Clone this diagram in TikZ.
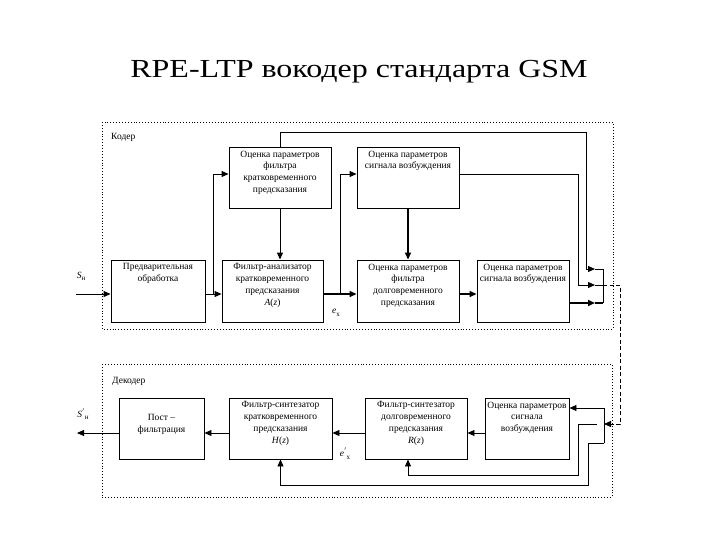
\documentclass[tikz,border=0pt]{standalone}
\usepackage{fontspec}
\setmainfont{Liberation Serif}
\usetikzlibrary{arrows.meta,calc}
\tikzset{
  blk/.style={draw, line width=0.9pt, inner sep=0pt},
  txt/.style={align=center, inner sep=0.5pt, anchor=north, font=\fontsize{9.5}{11.8}\selectfont},
  ln/.style={line width=0.9pt},
  arr/.style={line width=0.9pt, -{Triangle[length=7pt,width=6pt]}},
  thk/.style={line width=2pt},
  frame/.style={dotted, line width=0.9pt},
  lab/.style={font=\fontsize{9.5}{11}\selectfont, inner sep=0pt}
}
\begin{document}
\begin{tikzpicture}[x=1pt,y=-1pt]
\useasboundingbox (0,0) rectangle (720,540);
% title
\node[anchor=base, inner sep=0pt, xscale=1.23, font=\fontsize{26}{30}\selectfont] (title) at (359,78) {RPE-LTP вокодер стандарта GSM};
% frames
\draw[frame] (102,122) rectangle (613,329);
\draw[frame] (102,364) rectangle (612,497);
\node[lab, anchor=west] (coderl) at (111,137) {Кодер};
\node[lab, anchor=west] (decl) at (112,381) {Декодер};
% coder blocks
\node[blk, minimum width=102pt, minimum height=61pt] (b1) at (280,177.5) {};
\node[txt] (b1t) at ([yshift=-3.5pt]b1.north) {Оценка параметров\\фильтра\\кратковременного\\предсказания};
\node[blk, minimum width=102pt, minimum height=61pt] (b2) at (408,177.5) {};
\node[txt] (b2t) at ([yshift=-3.5pt]b2.north) {Оценка параметров\\сигнала возбуждения};
\node[blk, minimum width=94pt, minimum height=62pt] (b3) at (158,291) {};
\node[txt] (b3t) at ([yshift=-3.5pt]b3.north) {Предварительная\\обработка};
\node[blk, minimum width=101pt, minimum height=62pt] (b4) at (272.5,291) {};
\node[txt] (b4t) at ([yshift=-3.5pt]b4.north) {Фильтр-анализатор\\кратковременного\\предсказания\\\textit{A}(\textit{z})};
\node[blk, minimum width=102pt, minimum height=62pt] (b5) at (408,291) {};
\node[txt] (b5t) at ([yshift=-3.5pt]b5.north) {Оценка параметров\\фильтра\\долговременного\\предсказания};
\node[blk, minimum width=92pt, minimum height=62pt] (b6) at (523,291) {};
\node[txt] (b6t) at ([yshift=-3.5pt]b6.north) {Оценка параметров\\сигнала возбуждения};
% decoder blocks
\node[blk, minimum width=85pt, minimum height=61pt] (b7) at (161.5,428.5) {};
\node[txt] (b7t) at ([yshift=-16.5pt]b7.north) {Пост –\\фильтрация};
\node[blk, minimum width=103pt, minimum height=61pt] (b8) at (280.5,428.5) {};
\node[txt] (b8t) at ([yshift=-3.5pt]b8.north) {Фильтр-синтезатор\\кратковременного\\предсказания\\\textit{H}(\textit{z})};
\node[blk, minimum width=102pt, minimum height=61pt] (b9) at (416,428.5) {};
\node[txt] (b9t) at ([yshift=-3.5pt]b9.north) {Фильтр-синтезатор\\долговременного\\предсказания\\\textit{R}(\textit{z})};
\node[blk, minimum width=84pt, minimum height=61pt] (b10) at (527,428.5) {};
\node[txt] (b10t) at ([yshift=-3.5pt]b10.north) {Оценка параметров\\сигнала\\возбуждения};
% coder connectors
\coordinate (sin) at (76,294);
\coordinate (j1) at (213,294);
\coordinate (j2) at (340,294);
\coordinate (cbt) at (603,269);
\coordinate (cbm) at (603,285);
\coordinate (cbb) at (603,303);
\draw[arr] (sin) -- (sin -| b3.west);
\draw[arr] (b3.east |- j1) -- (b4.west |- j1);
\draw[arr] (j1) |- ([yshift=3.5pt]b1.west);
\draw[arr] (b1.south) -- (b1.south |- b4.north);
\draw[arr,thk] (b4.east |- j2) -- (b5.west |- j2);
\draw[arr] (j2) |- ([yshift=3.5pt]b2.west);
\draw[arr,thk] (b2.south) -- (b5.north);
\draw[arr,thk] (b5.east |- j2) -- (b6.west |- j2);
\draw[arr] (b1.north) |- (586,132) |- ([xshift=-8pt]cbt);
\draw[ln] ([xshift=-8pt]cbt) -- (cbt);
\draw[arr] ([yshift=3.5pt]b2.east) -| (578,285) -- ([xshift=-8pt]cbm);
\draw[ln] ([xshift=-8pt]cbm) -- (cbm);
\draw[arr,thk] (b6.east |- cbb) -- ([xshift=-8pt]cbb);
\draw[thk] ([xshift=-8pt]cbb) -- (cbb);
\draw[ln] (cbt) -- (cbb);
% link
\coordinate (dbt) at (604,408);
\coordinate (dbm) at (604,424);
\coordinate (dbb) at (604,443);
\draw[ln, dash pattern=on 4pt off 2.5pt] (cbm) -| (620,424) -- (612,424);
\draw[arr] (612,424) -- (dbm);
% decoder connectors
\coordinate (sout) at (77,433);
\draw[ln] (dbt) -- (dbb);
\draw[arr] (dbt) -- (b10.east |- dbt);
\draw[arr] (dbb) -| (588,485) -| (b8.south);
\draw[arr] (597,424) -| (578,475) -| ([xshift=-8pt]b9.south);
\draw[arr] (b10.west |- sout) -- (b9.east |- sout);
\draw[arr] (b9.west |- sout) -- (b8.east |- sout);
\draw[arr] (b8.west |- sout) -- (b7.east |- sout);
\draw[arr] (b7.west |- sout) -- (sout);
% signal labels
\node[lab] (sn) at (81,276) {\textit{S}\raisebox{-2pt}{\scriptsize н}};
\node[lab] (snd) at (83,414) {\textit{S}{\scriptsize\raisebox{3pt}{$'$}\raisebox{-2pt}{н}}};
\node[lab] (ex) at (336,313) {\textit{e}\raisebox{-2.5pt}{\scriptsize x}};
\node[lab] (exd) at (345,454) {\textit{e}{\scriptsize\raisebox{3pt}{$'$}\raisebox{-3pt}{x}}};
\end{tikzpicture}
\end{document}
